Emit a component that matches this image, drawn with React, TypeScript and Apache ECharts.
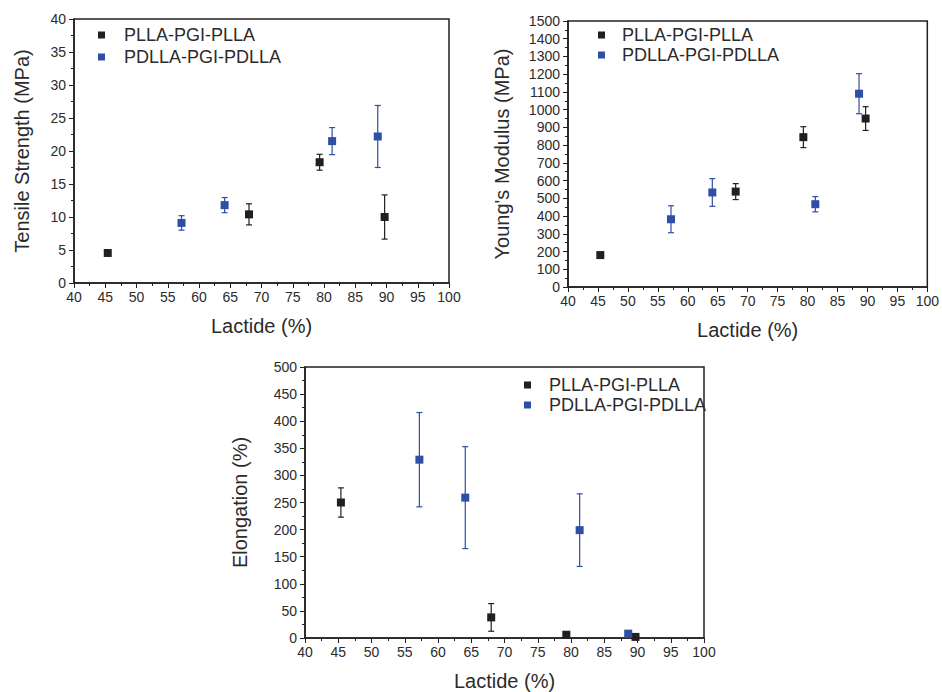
import React, { useEffect, useRef } from "react";
import * as echarts from "echarts";

const seriesNames = ["PLLA-PGI-PLLA", "PDLLA-PGI-PDLLA"];
const colors = ["#231f20", "#2f4ea6"];

const lactidePLLA = [45.4, 68.0, 79.3, 89.7];
const lactidePDLLA = [57.2, 64.1, 81.3, 88.6];

const tensilePLLA = [4.55, 10.4, 18.3, 10.0];
const tensilePLLAErr = [0.3, 1.6, 1.2, 3.35];
const tensilePDLLA = [9.1, 11.8, 21.5, 22.2];
const tensilePDLLAErr = [1.1, 1.15, 2.05, 4.7];

const modulusPLLA = [180, 538, 845, 950];
const modulusPLLAErr = [15, 45, 59, 67];
const modulusPDLLA = [382, 533, 467, 1090];
const modulusPDLLAErr = [76, 78, 43, 113];

const elongPLLA = [250, 38, 6, 2];
const elongPLLAErr = [27, 25.5, 2, 1];
const elongPDLLA = [329, 259, 199, 8];
const elongPDLLAErr = [87, 94, 67, 2];

const FONT = "'Liberation Sans', Arial, sans-serif";
const AXIS_COLOR = "#231f20";
const TEXT_COLOR = "#2b2b2b";

function zip3(xs: number[], ys: number[], es: number[]) {
  return xs.map((x, i) => [x, ys[i], es[i]]);
}

function xAxisCfg(gridIndex: number) {
  return {
    type: "value",
    gridIndex,
    min: 40,
    max: 100,
    interval: 5,
    name: "Lactide (%)",
    nameLocation: "middle",
    nameGap: 33,
    nameTextStyle: { fontSize: 20, color: TEXT_COLOR, fontFamily: FONT },
    axisLine: { show: true, lineStyle: { color: AXIS_COLOR, width: 1.5 } },
    axisTick: { show: true, inside: false, length: 5, lineStyle: { color: AXIS_COLOR, width: 1 } },
    minorTick: { show: true, splitNumber: 2, length: 3, lineStyle: { color: AXIS_COLOR, width: 1 } },
    axisLabel: { fontSize: 14, color: TEXT_COLOR, fontFamily: FONT, margin: 7, formatter: (v: number) => String(v) },
    splitLine: { show: false },
    minorSplitLine: { show: false },
  };
}

function yAxisCfg(gridIndex: number, name: string, max: number, interval: number, nameGap: number) {
  return {
    type: "value",
    gridIndex,
    min: 0,
    max,
    interval,
    name,
    nameLocation: "middle",
    nameGap,
    nameTextStyle: { fontSize: 20, color: TEXT_COLOR, fontFamily: FONT },
    axisLine: { show: true, lineStyle: { color: AXIS_COLOR, width: 1.5 } },
    axisTick: { show: true, inside: false, length: 5, lineStyle: { color: AXIS_COLOR, width: 1 } },
    minorTick: { show: true, splitNumber: 2, length: 3, lineStyle: { color: AXIS_COLOR, width: 1 } },
    axisLabel: { fontSize: 14, color: TEXT_COLOR, fontFamily: FONT, margin: 8, formatter: (v: number) => String(v) },
    splitLine: { show: false },
    minorSplitLine: { show: false },
  };
}

function errorSeries(name: string, idx: number, data: number[][], color: string) {
  return {
    type: "custom",
    name,
    xAxisIndex: idx,
    yAxisIndex: idx,
    encode: { x: 0, y: 1 },
    z: 2,
    data,
    renderItem: (params: any, api: any) => {
      const x = api.value(0);
      const y = api.value(1);
      const e = api.value(2);
      const top = api.coord([x, y + e]);
      const bot = api.coord([x, y - e]);
      const hw = 3;
      const style = { stroke: color, lineWidth: 1.2 };
      return {
        type: "group",
        children: [
          { type: "line", shape: { x1: top[0], y1: top[1], x2: bot[0], y2: bot[1] }, style },
          { type: "line", shape: { x1: top[0] - hw, y1: top[1], x2: top[0] + hw, y2: top[1] }, style },
          { type: "line", shape: { x1: bot[0] - hw, y1: bot[1], x2: bot[0] + hw, y2: bot[1] }, style },
        ],
      };
    },
  };
}

function scatterSeries(name: string, idx: number, xs: number[], ys: number[], color: string) {
  return {
    type: "scatter",
    name,
    xAxisIndex: idx,
    yAxisIndex: idx,
    symbol: "rect",
    symbolSize: 8,
    z: 3,
    itemStyle: { color, opacity: 1 },
    data: xs.map((x, i) => [x, ys[i]]),
  };
}

function legendCfg(left: number, top: number, textPad: number, gap: number) {
  return {
    orient: "vertical",
    left,
    top,
    itemGap: gap,
    itemWidth: 7,
    itemHeight: 7,
    icon: "rect",
    data: seriesNames.map((n, i) => ({ name: n, itemStyle: { color: colors[i] } })),
    textStyle: { fontSize: 18, color: TEXT_COLOR, fontFamily: FONT, padding: [0, 0, 0, textPad] },
  };
}

export default function App() {
  const ref = useRef<HTMLDivElement>(null);
  useEffect(() => {
    if (!ref.current) return;
    const chart = echarts.init(ref.current, undefined, { renderer: "svg" });
    const gridStyle = { show: true, borderColor: AXIS_COLOR, borderWidth: 1.5, backgroundColor: "transparent" };
    const option: any = {
      animation: false,
      backgroundColor: "#ffffff",
      textStyle: { fontFamily: FONT },
      grid: [
        { left: 74, top: 19, width: 375, height: 264, ...gridStyle },
        { left: 568, top: 21, width: 364, height: 266, ...gridStyle },
        { left: 305, top: 367, width: 399, height: 273, ...gridStyle },
      ],
      xAxis: [xAxisCfg(0), xAxisCfg(1), xAxisCfg(2)],
      yAxis: [
        yAxisCfg(0, "Tensile Strength (MPa)", 40, 5, 42),
        yAxisCfg(1, "Young's Modulus (MPa)", 1500, 100, 56),
        yAxisCfg(2, "Elongation (%)", 500, 50, 55),
      ],
      legend: [legendCfg(93, 21, 14, 4), legendCfg(593, 21, 12, 2), legendCfg(519, 371, 13, 2)],
      series: [
        errorSeries(seriesNames[0], 0, zip3(lactidePLLA, tensilePLLA, tensilePLLAErr), colors[0]),
        errorSeries(seriesNames[1], 0, zip3(lactidePDLLA, tensilePDLLA, tensilePDLLAErr), colors[1]),
        scatterSeries(seriesNames[0], 0, lactidePLLA, tensilePLLA, colors[0]),
        scatterSeries(seriesNames[1], 0, lactidePDLLA, tensilePDLLA, colors[1]),

        errorSeries(seriesNames[0], 1, zip3(lactidePLLA, modulusPLLA, modulusPLLAErr), colors[0]),
        errorSeries(seriesNames[1], 1, zip3(lactidePDLLA, modulusPDLLA, modulusPDLLAErr), colors[1]),
        scatterSeries(seriesNames[0], 1, lactidePLLA, modulusPLLA, colors[0]),
        scatterSeries(seriesNames[1], 1, lactidePDLLA, modulusPDLLA, colors[1]),

        errorSeries(seriesNames[0], 2, zip3(lactidePLLA, elongPLLA, elongPLLAErr), colors[0]),
        errorSeries(seriesNames[1], 2, zip3(lactidePDLLA, elongPDLLA, elongPDLLAErr), colors[1]),
        scatterSeries(seriesNames[0], 2, lactidePLLA, elongPLLA, colors[0]),
        scatterSeries(seriesNames[1], 2, lactidePDLLA, elongPDLLA, colors[1]),
      ],
    };
    chart.setOption(option);
    return () => chart.dispose();
  }, []);
  return (
    <div
      ref={ref}
      style={{ position: "absolute", left: 0, top: 0, width: 942, height: 692, background: "#fff" }}
    />
  );
}
